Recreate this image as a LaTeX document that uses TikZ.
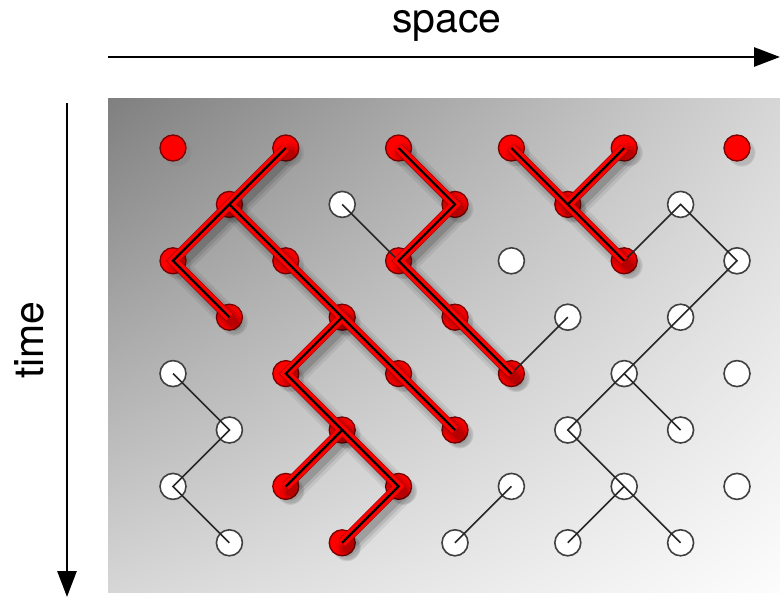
\documentclass[tikz,border=0pt]{standalone}
\usepackage{fontspec}
\setmainfont{TeX Gyre Heros}
\usetikzlibrary{arrows.meta,shadows,shadings}
\definecolor{bgA}{gray}{0.50}
\definecolor{bgB}{gray}{0.84}
\definecolor{bgC}{gray}{0.99}
\definecolor{redrim}{RGB}{120,0,0}
\definecolor{linerim}{RGB}{170,0,0}
\definecolor{nodeedge}{gray}{0.25}
\tikzset{
  rednode/.style={circle,inner sep=0pt,minimum size=26pt,fill=red,draw=redrim,line width=1.3pt,
    circular drop shadow={shadow xshift=4pt,shadow yshift=-4pt,opacity=0.35,shadow scale=1.1}},
  whitenode/.style={circle,inner sep=0pt,minimum size=26pt,fill=white,draw=nodeedge,line width=1.6pt},
  blackedge/.style={draw=black!85,line width=1.6pt},
  shadowA/.style={draw=black,line width=22pt,opacity=0.07,line join=round,line cap=round,transform canvas={shift={(5pt,-6pt)}}},
  shadowB/.style={draw=black,line width=16pt,opacity=0.09,line join=round,line cap=round,transform canvas={shift={(5pt,-6pt)}}},
  shadowC/.style={draw=black,line width=10pt,opacity=0.14,line join=round,line cap=round,transform canvas={shift={(5pt,-6pt)}}},
  redrimline/.style={draw=linerim,line width=10pt,line join=miter},
  redline/.style={draw=red,line width=8.6pt,line join=miter},
  redcore/.style={draw=black,line width=2.2pt,line join=miter},
  axisarrow/.style={line width=2.8pt,-{Triangle[length=26pt,width=19pt]}},
  axislabel/.style={font=\fontsize{41}{47}\selectfont,inner sep=0pt}
}
\newcommand\redtree[1]{%
  \draw[#1] (n-2-0.center) -- (n-1-1.center) -- (n-0-2.center) -- (n-1-3.center);
  \draw[#1] (n-1-1.center) -- (n-2-2.center) -- (n-3-3.center) -- (n-4-4.center) -- (n-5-5.center);
  \draw[#1] (n-3-3.center) -- (n-2-4.center) -- (n-3-5.center) -- (n-2-6.center);
  \draw[#1] (n-3-5.center) -- (n-4-6.center) -- (n-3-7.center);
  \draw[#1] (n-4-0.center) -- (n-5-1.center) -- (n-4-2.center) -- (n-5-3.center) -- (n-6-4.center);
  \draw[#1] (n-6-0.center) -- (n-7-1.center) -- (n-8-2.center);
  \draw[#1] (n-8-0.center) -- (n-7-1.center);
}
\begin{document}
\begin{tikzpicture}[x=1pt,y=-1pt]
\useasboundingbox[fill=white] (0,0) rectangle (780,597);
% background
\shade[upper left=bgA,upper right=bgB,lower left=bgB,lower right=bgC] (108,98) rectangle (780,592);
% axes
\coordinate (sx0) at (108,57);
\coordinate (sx1) at (780,57);
\coordinate (ty0) at (67,103);
\coordinate (ty1) at (67,597);
\draw[axisarrow] (sx0) -- (sx1);
\draw[axisarrow] (ty0) -- (ty1);
\node[axislabel,anchor=base] (spacelbl) at (447,32) {space};
\node[axislabel,anchor=base,rotate=90] (timelbl) at (43,340) {time};
% nodes
\foreach \c/\r in {0/0,2/0,4/0,6/0,8/0,10/0,1/1,5/1,7/1,0/2,2/2,4/2,8/2,1/3,3/3,5/3,2/4,4/4,6/4,3/5,5/5,2/6,4/6,3/7}
  \node[rednode] (n-\c-\r) at ({173+56.4*\c},{148+56.4*\r}) {};
\foreach \c/\r in {3/1,9/1,6/2,10/2,7/3,9/3,0/4,8/4,10/4,1/5,7/5,9/5,0/6,6/6,8/6,10/6,1/7,5/7,7/7,9/7}
  \node[whitenode] (n-\c-\r) at ({173+56.4*\c},{148+56.4*\r}) {};
% black connectors
\draw[blackedge] (n-3-1.center) -- (n-4-2.center);
\draw[blackedge] (n-6-4.center) -- (n-7-3.center);
\draw[blackedge] (n-8-2.center) -- (n-9-1.center) -- (n-10-2.center) -- (n-9-3.center) -- (n-8-4.center) -- (n-7-5.center) -- (n-8-6.center) -- (n-9-7.center);
\draw[blackedge] (n-8-4.center) -- (n-9-5.center);
\draw[blackedge] (n-8-6.center) -- (n-7-7.center);
\draw[blackedge] (n-5-7.center) -- (n-6-6.center);
\draw[blackedge] (n-0-4.center) -- (n-1-5.center) -- (n-0-6.center) -- (n-1-7.center);
% red tree
\redtree{shadowA}
\redtree{shadowB}
\redtree{shadowC}
\redtree{redrimline}
\redtree{redline}
\redtree{redcore}
\end{tikzpicture}
\end{document}
